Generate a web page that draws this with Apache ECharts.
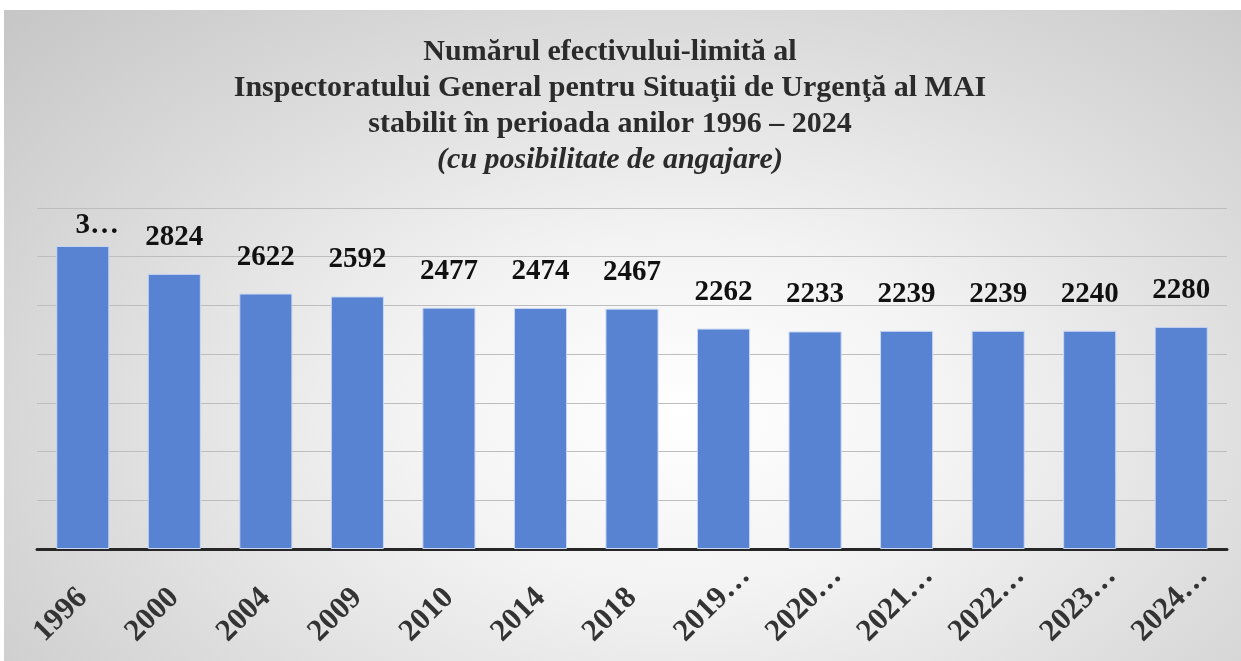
<!DOCTYPE html>
<html>
<head>
<meta charset="utf-8">
<script src="https://cdn.jsdelivr.net/npm/echarts@6/dist/echarts.min.js"></script>
<style>
  html, body { margin: 0; padding: 0; background: #fff; }
  #wrap { position: absolute; left: 4px; top: 10px; width: 1237px; height: 651px;
    background: radial-gradient(ellipse 75% 90% at 55% 62%, #ffffff 0%, #f3f3f3 30%, #dcdcdc 65%, #c6c6c6 100%); }
  #main { position: absolute; left: -4px; top: -10px; width: 1241px; height: 661px; }
</style>
</head>
<body>
<div id="wrap"><div id="main"></div></div>
<script>
// ani (categorii), etichetele lungi sunt trunchiate ca in original
const categories = ['1996', '2000', '2004', '2009', '2010', '2014', '2018', '2019…', '2020…', '2021…', '2022…', '2023…', '2024…'];
// efectivul-limita (valoarea pentru 1996 e estimata din inaltimea barei)
const values = [3110, 2824, 2622, 2592, 2477, 2474, 2467, 2262, 2233, 2239, 2239, 2240, 2280];

const serif = '"Liberation Serif", "DejaVu Serif", serif';

const myChart = echarts.init(document.getElementById('main'));
myChart.setOption({
  backgroundColor: 'transparent',
  title: {
    left: 605,
    top: 29,
    textAlign: 'center',
    text: 'Numărul efectivului-limită al\nInspectoratului General pentru Situaţii de Urgenţă al MAI\nstabilit în perioada anilor 1996 – 2024',
    subtext: '(cu posibilitate de angajare)',
    itemGap: 0,
    textStyle: {
      fontFamily: serif,
      fontWeight: 'bold',
      fontSize: 30,
      lineHeight: 36,
      color: '#2b2b2b'
    },
    subtextStyle: {
      fontFamily: serif,
      fontWeight: 'bold',
      fontStyle: 'italic',
      fontSize: 30,
      lineHeight: 36,
      color: '#2b2b2b'
    }
  },
  grid: {
    left: 37,
    right: 14,
    top: 208,
    bottom: 112,
    containLabel: false,
    outerBoundsMode: 'none'
  },
  xAxis: {
    type: 'category',
    // "…" iese in afara etichetei, ca in Excel
    data: categories.map(function (c) {
      if (c.slice(-1) === '…') return { value: c, textStyle: { padding: [0, -31, 0, 0] } };
      return c;
    }),
    axisTick: { show: false },
    axisLine: { lineStyle: { color: '#262626', width: 3 } },
    axisLabel: {
      rotate: 45,
      margin: 44,
      interval: 0,
      fontFamily: serif,
      fontWeight: 'bold',
      fontSize: 31,
      color: '#333'
    }
  },
  yAxis: {
    type: 'value',
    min: 0,
    max: 3500,
    interval: 500,
    axisLabel: { show: false },
    axisLine: { show: false },
    axisTick: { show: false },
    splitLine: { lineStyle: { color: '#bdbdbd', width: 1 } }
  },
  series: [
    {
      type: 'bar',
      barCategoryGap: '42%',
      data: values.map(function (v, i) {
        // primul an: eticheta trunchiata in original
        if (i === 0) return { value: v, label: { formatter: '3…', distance: 6, padding: [0, -29, 0, 0] } };
        return v;
      }),
      itemStyle: {
        color: '#5882d2',
        borderColor: '#c9d8f2',
        borderWidth: 1
      },
      label: {
        show: true,
        position: 'top',
        distance: 22,
        fontFamily: serif,
        fontWeight: 'bold',
        fontSize: 29,
        color: '#111'
      }
    }
  ]
});
myChart.resize();
</script>
</body>
</html>
